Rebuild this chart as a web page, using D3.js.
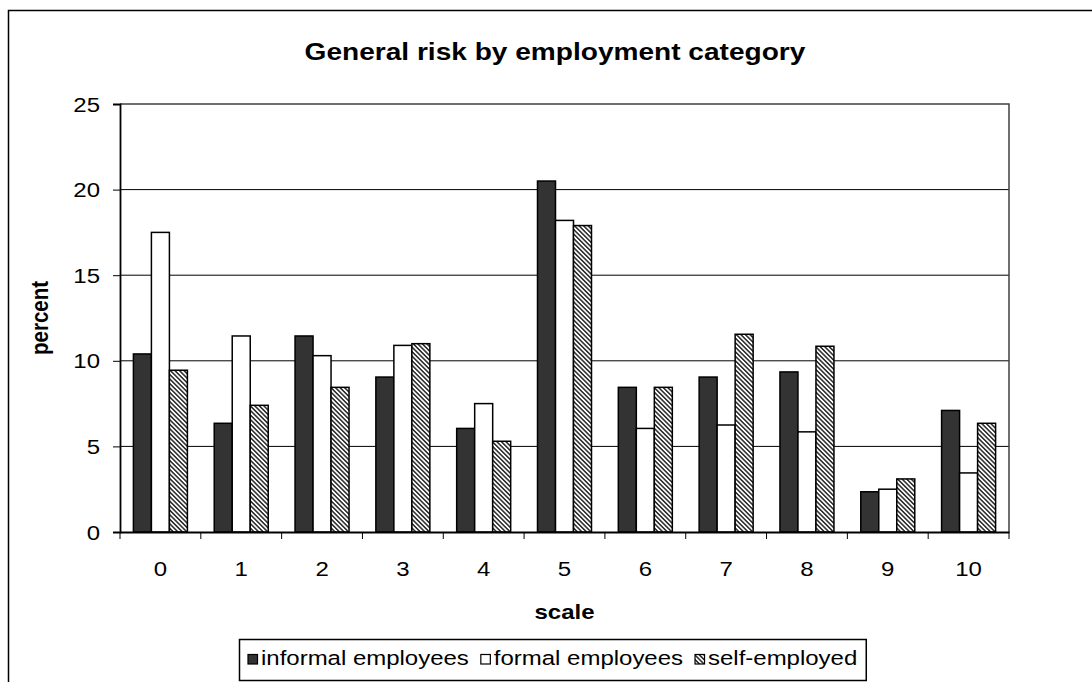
<!DOCTYPE html>
<html>
<head>
<meta charset="utf-8">
<script src="https://cdn.jsdelivr.net/npm/d3@7"></script>
<style>
  html, body { margin: 0; padding: 0; background: #fff; }
  svg { display: block; }
  text { font-family: Arial, "Liberation Sans", sans-serif; fill: #000; }
</style>
</head>
<body>
<svg id="chart" width="1092" height="682"></svg>
<script>
// ---- data ----
const categories = ["0","1","2","3","4","5","6","7","8","9","10"];
const seriesNames = ["informal employees","formal employees","self-employed"];
const informal = [10.4, 6.35, 11.45, 9.05, 6.05, 20.5, 8.45, 9.05, 9.35, 2.35, 7.1];
const formal   = [17.5, 11.45, 10.3, 10.9, 7.5, 18.2, 6.05, 6.25, 5.85, 2.5, 3.45];
const selfEmp  = [9.45, 7.4, 8.45, 11.0, 5.3, 17.9, 8.45, 11.55, 10.85, 3.1, 6.35];
const yTicks = [0, 5, 10, 15, 20, 25];
const titleText = "General risk by employment category";
const xTitle = "scale";
const yTitle = "percent";

const seriesValues = [informal, formal, selfEmp];

// ---- layout ----
const svg = d3.select("#chart");
const plot = { left: 120, right: 1009, top: 104, bottom: 532 };
const SX = 1.17;            // horizontal stretch of the reference text
const FONT = 20.5;          // base font size
const TITLE_FONT = 24;

function stretch(sel, x, y, extra) {
  sel.attr("x", 0).attr("y", 0)
     .attr("transform", `translate(${x},${y}) scale(${SX},1)` + (extra || ""));
}

const defs = svg.append("defs");
const pat = defs.append("pattern")
  .attr("id", "hatch")
  .attr("patternUnits", "userSpaceOnUse")
  .attr("width", 3.2).attr("height", 3.2)
  .attr("patternTransform", "rotate(-45)");
pat.append("rect").attr("width", 3.2).attr("height", 3.2).attr("fill", "#fff");
pat.append("rect").attr("x", 0).attr("y", 0).attr("width", 1.6).attr("height", 3.2).attr("fill", "#333");

const fills = ["#333333", "#ffffff", "url(#hatch)"];

// outer frame
svg.append("rect")
  .attr("x", 8.5).attr("y", 10.5)
  .attr("width", 1200).attr("height", 800)
  .attr("fill", "#fff").attr("stroke", "#000").attr("stroke-width", 1.5);

const x0 = d3.scaleBand().domain(categories).range([plot.left, plot.right]).paddingInner(0).paddingOuter(0);
const groupW = 54;
const x1 = d3.scaleBand().domain(d3.range(seriesNames.length))
  .range([(x0.bandwidth() - groupW) / 2, (x0.bandwidth() + groupW) / 2]).padding(0);
const y = d3.scaleLinear().domain([0, 25]).range([plot.bottom, plot.top]);

// gridlines
svg.append("g").selectAll("line").data(yTicks.filter(d => d > 0 && d < 25)).join("line")
  .attr("x1", plot.left).attr("x2", plot.right)
  .attr("y1", d => y(d)).attr("y2", d => y(d))
  .attr("stroke", "#000").attr("stroke-width", 1);

// plot border (top and right)
svg.append("path")
  .attr("d", `M${plot.left},${plot.top}H${plot.right}V${plot.bottom}`)
  .attr("fill", "none").attr("stroke", "#404040").attr("stroke-width", 1.5);

// bars
const groups = svg.append("g").selectAll("g").data(categories).join("g")
  .attr("transform", d => `translate(${x0(d)},0)`);
groups.selectAll("rect")
  .data((c, i) => seriesValues.map((arr, s) => ({ s, v: arr[i] })))
  .join("rect")
  .attr("x", d => x1(d.s))
  .attr("width", x1.bandwidth())
  .attr("y", d => y(d.v))
  .attr("height", d => y(0) - y(d.v))
  .attr("fill", d => fills[d.s])
  .attr("stroke", "#000").attr("stroke-width", 1.5);

// y axis
const yAxis = d3.axisLeft(y).tickValues(yTicks).tickSize(7).tickFormat(d3.format("d"));
const gy = svg.append("g").attr("transform", `translate(${plot.left},0)`).call(yAxis);
gy.select(".domain").attr("stroke", "#000").attr("stroke-width", 1.8);
gy.selectAll(".tick line").attr("stroke", "#000");
gy.selectAll(".tick text")
  .attr("font-size", FONT).attr("font-family", "Arial, 'Liberation Sans', sans-serif")
  .attr("fill", "#000")
  .each(function () { stretch(d3.select(this), -20, 0); })
  .attr("dy", "0.35em");

// x axis
const xAxis = d3.axisBottom(x0).tickSize(0);
const gx = svg.append("g").attr("transform", `translate(0,${plot.bottom})`).call(xAxis);
gx.select(".domain").attr("stroke", "#000").attr("stroke-width", 1.8);
gx.selectAll(".tick text")
  .attr("font-size", FONT).attr("font-family", "Arial, 'Liberation Sans', sans-serif")
  .attr("fill", "#000")
  .each(function () { stretch(d3.select(this), 0, 44); })
  .attr("dy", 0);
// category boundary ticks
gx.append("g").selectAll("line").data(d3.range(categories.length + 1)).join("line")
  .attr("x1", i => plot.left + i * x0.step())
  .attr("x2", i => plot.left + i * x0.step())
  .attr("y1", 0).attr("y2", 7)
  .attr("stroke", "#000").attr("stroke-width", 1);

// titles
svg.append("text")
  .attr("text-anchor", "middle")
  .attr("font-size", TITLE_FONT).attr("font-weight", "bold")
  .text(titleText)
  .call(stretch, 555, 60);

svg.append("text")
  .attr("text-anchor", "middle")
  .attr("font-size", FONT).attr("font-weight", "bold")
  .text(xTitle)
  .call(stretch, (plot.left + plot.right) / 2, 619);

svg.append("text")
  .attr("text-anchor", "middle")
  .attr("font-size", FONT).attr("font-weight", "bold")
  .text(yTitle)
  .call(stretch, 48, 318, " rotate(-90)");

// legend
const legend = svg.append("g");
const legBox = legend.append("rect")
  .attr("x", 239.5).attr("y", 639.5).attr("height", 41)
  .attr("fill", "#fff").attr("stroke", "#000").attr("stroke-width", 1.5);
let cx = 248;
const itemGap = 12;
seriesNames.forEach((name, i) => {
  const g = legend.append("g").attr("transform", `translate(${cx},0)`);
  g.append("rect")
    .attr("x", 0).attr("y", 654.5)
    .attr("width", 9.5).attr("height", 9.5)
    .attr("fill", fills[i])
    .attr("stroke", "#000").attr("stroke-width", 1.2);
  const t = g.append("text")
    .attr("font-size", FONT)
    .text(name)
    .call(stretch, 13, 664.5);
  const w = t.node().getComputedTextLength() * SX;
  cx += 13 + w + itemGap;
});
legBox.attr("width", cx - itemGap + 9 - 239.5);
</script>
</body>
</html>
